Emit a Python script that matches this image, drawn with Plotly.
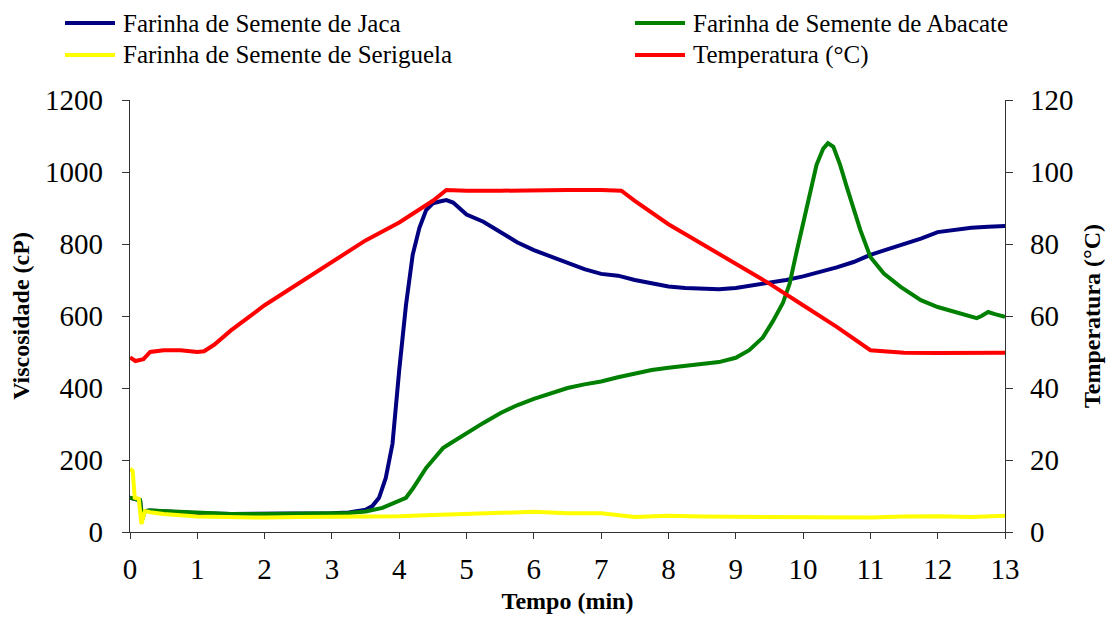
import plotly.graph_objects as go

# ---------------- data ----------------
t_jaca = [0, 0.1, 0.15, 0.18, 0.22, 0.3, 0.5, 0.75, 1.0, 1.5, 2.0, 2.5, 3.0, 3.25, 3.5, 3.6,
          3.7, 3.8, 3.9, 4.0, 4.1, 4.2, 4.3, 4.4, 4.5, 4.6, 4.7, 4.8, 5.0, 5.25, 5.5, 5.75,
          6.0, 6.25, 6.5, 6.75, 7.0, 7.25, 7.5, 7.75, 8.0, 8.25, 8.5, 8.75, 9.0, 9.25, 9.5,
          9.75, 10.0, 10.25, 10.5, 10.75, 11.0, 11.25, 11.5, 11.75, 12.0, 12.25, 12.5, 12.75, 13.0]
visc_jaca = [95, 90, 88, 35, 58, 60, 57, 55, 52, 50, 50, 52, 52, 54, 62, 72,
             95, 150, 245, 450, 630, 770, 845, 894, 913, 918, 922, 915, 882, 862, 835, 805,
             783, 765, 747, 730, 717, 712, 700, 690, 682, 678, 676, 674, 678, 685, 693,
             700, 710, 722, 735, 750, 770, 785, 800, 815, 833, 840, 845, 848, 850]

t_abacate = [0, 0.1, 0.15, 0.18, 0.22, 0.3, 0.5, 1.0, 1.5, 2.0, 2.5, 3.0, 3.25, 3.5, 3.75,
             4.0, 4.1, 4.2, 4.3, 4.4, 4.5, 4.65, 4.75, 5.0, 5.25, 5.5, 5.75, 6.0, 6.25, 6.5,
             6.75, 7.0, 7.25, 7.5, 7.75, 8.0, 8.25, 8.5, 8.75, 9.0, 9.2, 9.4, 9.55, 9.7, 9.8,
             9.9, 10.0, 10.1, 10.2, 10.3, 10.37, 10.45, 10.55, 10.65, 10.75, 10.85, 11.0, 11.1,
             11.2, 11.45, 11.75, 12.0, 12.25, 12.45, 12.58, 12.65, 12.75, 12.85, 13.0]
visc_abacate = [95, 90, 88, 35, 58, 60, 58, 53, 50, 50, 50, 52, 53, 57, 67,
                85, 95, 120, 150, 178, 200, 233, 245, 275, 303, 330, 352, 370, 385, 400,
                410, 418, 430, 440, 450, 456, 462, 466, 472, 484, 505, 540, 585, 636, 690,
                775, 858, 945, 1020, 1065, 1080, 1070, 1020, 958, 895, 839, 764, 740,
                718, 681, 644, 625, 612, 603, 594, 600, 611, 605, 598]

t_seriguela = [0, 0.04, 0.07, 0.13, 0.17, 0.22, 0.3, 0.5, 1.0, 1.5, 2.0, 2.5, 3.0, 3.5, 4.0,
               4.5, 5.0, 5.5, 6.0, 6.5, 7.0, 7.5, 8.0, 8.5, 9.0, 9.5, 10.0, 10.5, 11.0, 11.5,
               12.0, 12.5, 13.0]
visc_seriguela = [175, 170, 95, 92, 22, 58, 55, 50, 43, 42, 40, 42, 42, 42, 44,
                  47, 50, 53, 56, 52, 52, 42, 45, 43, 42, 42, 42, 40, 40, 43,
                  44, 42, 45]

t_temp = [0, 0.08, 0.2, 0.3, 0.5, 0.75, 1.0, 1.1, 1.25, 1.5, 2.0, 2.5, 3.0, 3.5, 4.0, 4.5,
          4.7, 5.0, 5.5, 6.0, 6.5, 7.0, 7.3, 7.5, 8.0, 8.5, 9.0, 9.5, 10.0, 10.5, 11.0,
          11.5, 12.0, 12.5, 13.0]
temperatura = [48.5, 47.5, 48, 50, 50.5, 50.5, 50, 50.2, 52, 56, 63, 69, 75, 81, 86, 92,
               95, 94.8, 94.8, 95, 95, 95, 94.8, 92, 85.5, 80, 74.5, 69, 63, 57, 50.5,
               49.8, 49.7, 49.8, 49.8]

x_ticks = list(range(0, 14))
y_ticks = [0, 200, 400, 600, 800, 1000, 1200]
y2_ticks = [0, 20, 40, 60, 80, 100, 120]

series_names = ["Farinha de Semente de Jaca", "Farinha de Semente de Abacate",
                "Farinha de Semente de Seriguela", "Temperatura (°C)"]
series_colors = ["#000080", "#008000", "#FFFF00", "#FF0000"]

FONT = "Liberation Serif, Times New Roman, DejaVu Serif, serif"

fig = go.Figure()
fig.add_trace(go.Scatter(x=t_jaca, y=visc_jaca, mode="lines", name=series_names[0],
                         line=dict(color=series_colors[0], width=4)))
fig.add_trace(go.Scatter(x=t_abacate, y=visc_abacate, mode="lines", name=series_names[1],
                         line=dict(color=series_colors[1], width=4)))
fig.add_trace(go.Scatter(x=t_seriguela, y=visc_seriguela, mode="lines", name=series_names[2],
                         line=dict(color=series_colors[2], width=4)))
fig.add_trace(go.Scatter(x=t_temp, y=temperatura, mode="lines", name=series_names[3],
                         line=dict(color=series_colors[3], width=4), yaxis="y2"))

axis_common = dict(showgrid=False, zeroline=False, showline=True, linecolor="#333333", linewidth=1.3,
                   ticks="outside", tickcolor="#333333", tickwidth=1.3,
                   tickfont=dict(family=FONT, size=29, color="black"))

# legend drawn as line samples + text above the plot area (two columns, two rows)
PLOT_L, PLOT_W, PLOT_B, PLOT_H = 122, 875, 524, 432


def px_x(fx):
    return (fx - PLOT_L) / PLOT_W


def px_y(fy):
    return (PLOT_B - fy) / PLOT_H


legend_slots = [(57, 15), (627, 15), (57, 47), (627, 47)]  # (line start x, row centre y) in figure px
shapes, annotations = [], []
for name, color, (lx, ly) in zip(series_names, series_colors, legend_slots):
    shapes.append(dict(type="line", xref="paper", yref="paper",
                       x0=px_x(lx), x1=px_x(lx + 50), y0=px_y(ly), y1=px_y(ly),
                       line=dict(color=color, width=4)))
    annotations.append(dict(text=name, xref="paper", yref="paper", x=px_x(lx + 56), y=px_y(ly),
                            xanchor="left", yanchor="middle", showarrow=False,
                            font=dict(family=FONT, size=25, color="black")))

annotations.append(dict(text="abacate, jaca e seriguela estudadas.", xref="paper", yref="paper",
                        x=0.49, y=1.226, yanchor="bottom", showarrow=False,
                        font=dict(family=FONT, size=24, color="black")))

# the page body adds an 8px margin, so the figure is sized 8px smaller
fig.update_layout(
    width=1107, height=613,
    margin=dict(l=122, r=110, t=92, b=89, autoexpand=False),
    paper_bgcolor="white", plot_bgcolor="white",
    font=dict(family=FONT, color="black"),
    showlegend=False,
    xaxis=dict(range=[0, 13], tickvals=x_ticks, ticklen=6, ticklabelstandoff=5,
               title=dict(text="<b>Tempo (min)</b>", font=dict(family=FONT, size=24), standoff=8),
               **axis_common),
    yaxis=dict(range=[0, 1200], tickvals=y_ticks, ticklen=7, ticklabelstandoff=13,
               title=dict(text="<b>Viscosidade (cP)</b>", font=dict(family=FONT, size=24), standoff=8),
               **axis_common),
    yaxis2=dict(range=[0, 120], tickvals=y2_ticks, ticklen=7, ticklabelstandoff=11,
                overlaying="y", side="right",
                title=dict(text="<b>Temperatura (°C)</b>", font=dict(family=FONT, size=24), standoff=10),
                **axis_common),
    shapes=shapes,
    annotations=annotations,
)

fig.write_html("out.html")
